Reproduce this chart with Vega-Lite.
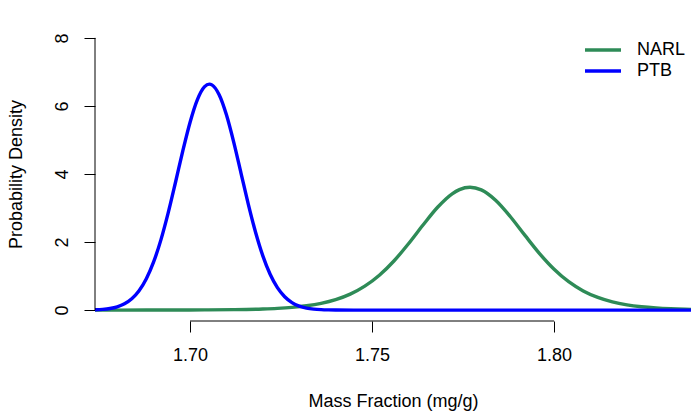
{
  "$schema": "https://vega.github.io/schema/vega-lite/v6.json",
  "autosize": "none",
  "width": 596,
  "height": 294,
  "padding": {"left": 95, "top": 27, "right": 2, "bottom": 90},
  "background": "white",
  "config": {
    "view": {"stroke": null},
    "font": "Liberation Sans"
  },
  "datasets": {
    "curves": [
      {"series": "NARL", "x": 1.672, "density": 0.0003},
      {"series": "NARL", "x": 1.680, "density": 0.0006},
      {"series": "NARL", "x": 1.688, "density": 0.0012},
      {"series": "NARL", "x": 1.696, "density": 0.0026},
      {"series": "NARL", "x": 1.704, "density": 0.0060},
      {"series": "NARL", "x": 1.712, "density": 0.0139},
      {"series": "NARL", "x": 1.720, "density": 0.0333},
      {"series": "NARL", "x": 1.724, "density": 0.0520},
      {"series": "NARL", "x": 1.728, "density": 0.0814},
      {"series": "NARL", "x": 1.732, "density": 0.1273},
      {"series": "NARL", "x": 1.736, "density": 0.1985},
      {"series": "NARL", "x": 1.740, "density": 0.307},
      {"series": "NARL", "x": 1.744, "density": 0.469},
      {"series": "NARL", "x": 1.748, "density": 0.703},
      {"series": "NARL", "x": 1.752, "density": 1.024},
      {"series": "NARL", "x": 1.756, "density": 1.444},
      {"series": "NARL", "x": 1.760, "density": 1.949},
      {"series": "NARL", "x": 1.764, "density": 2.500},
      {"series": "NARL", "x": 1.768, "density": 3.022},
      {"series": "NARL", "x": 1.772, "density": 3.418},
      {"series": "NARL", "x": 1.774, "density": 3.541},
      {"series": "NARL", "x": 1.7769, "density": 3.610},
      {"series": "NARL", "x": 1.780, "density": 3.532},
      {"series": "NARL", "x": 1.784, "density": 3.221},
      {"series": "NARL", "x": 1.788, "density": 2.744},
      {"series": "NARL", "x": 1.792, "density": 2.195},
      {"series": "NARL", "x": 1.796, "density": 1.662},
      {"series": "NARL", "x": 1.800, "density": 1.201},
      {"series": "NARL", "x": 1.804, "density": 0.835},
      {"series": "NARL", "x": 1.808, "density": 0.564},
      {"series": "NARL", "x": 1.812, "density": 0.372},
      {"series": "NARL", "x": 1.816, "density": 0.2418},
      {"series": "NARL", "x": 1.820, "density": 0.1556},
      {"series": "NARL", "x": 1.824, "density": 0.0996},
      {"series": "NARL", "x": 1.828, "density": 0.0636},
      {"series": "NARL", "x": 1.832, "density": 0.0407},
      {"series": "NARL", "x": 1.836, "density": 0.0261},
      {"series": "NARL", "x": 1.840, "density": 0.0169},
      {"series": "PTB", "x": 1.672, "density": 0.0044},
      {"series": "PTB", "x": 1.674, "density": 0.0103},
      {"series": "PTB", "x": 1.676, "density": 0.0229},
      {"series": "PTB", "x": 1.678, "density": 0.0483},
      {"series": "PTB", "x": 1.680, "density": 0.0968},
      {"series": "PTB", "x": 1.682, "density": 0.184},
      {"series": "PTB", "x": 1.684, "density": 0.331},
      {"series": "PTB", "x": 1.686, "density": 0.567},
      {"series": "PTB", "x": 1.688, "density": 0.920},
      {"series": "PTB", "x": 1.690, "density": 1.415},
      {"series": "PTB", "x": 1.692, "density": 2.064},
      {"series": "PTB", "x": 1.694, "density": 2.857},
      {"series": "PTB", "x": 1.696, "density": 3.750},
      {"series": "PTB", "x": 1.698, "density": 4.670},
      {"series": "PTB", "x": 1.700, "density": 5.515},
      {"series": "PTB", "x": 1.702, "density": 6.179},
      {"series": "PTB", "x": 1.704, "density": 6.566},
      {"series": "PTB", "x": 1.7053, "density": 6.640},
      {"series": "PTB", "x": 1.706, "density": 6.619},
      {"series": "PTB", "x": 1.708, "density": 6.328},
      {"series": "PTB", "x": 1.710, "density": 5.738},
      {"series": "PTB", "x": 1.712, "density": 4.936},
      {"series": "PTB", "x": 1.714, "density": 4.027},
      {"series": "PTB", "x": 1.716, "density": 3.117},
      {"series": "PTB", "x": 1.718, "density": 2.288},
      {"series": "PTB", "x": 1.720, "density": 1.593},
      {"series": "PTB", "x": 1.722, "density": 1.052},
      {"series": "PTB", "x": 1.724, "density": 0.659},
      {"series": "PTB", "x": 1.726, "density": 0.392},
      {"series": "PTB", "x": 1.728, "density": 0.221},
      {"series": "PTB", "x": 1.730, "density": 0.118},
      {"series": "PTB", "x": 1.732, "density": 0.0598},
      {"series": "PTB", "x": 1.734, "density": 0.0288},
      {"series": "PTB", "x": 1.736, "density": 0.0131},
      {"series": "PTB", "x": 1.738, "density": 0.0057},
      {"series": "PTB", "x": 1.740, "density": 0.0023},
      {"series": "PTB", "x": 1.745, "density": 0.0003},
      {"series": "PTB", "x": 1.750, "density": 0},
      {"series": "PTB", "x": 1.800, "density": 0},
      {"series": "PTB", "x": 1.840, "density": 0}
    ]
  },
  "layer": [
    {
      "data": {"name": "curves"},
      "transform": [{"filter": "datum.series === 'NARL'"}],
      "mark": {"type": "line", "interpolate": "monotone", "strokeWidth": 3.4, "clip": true},
      "encoding": {
        "x": {
          "field": "x",
          "type": "quantitative",
          "scale": {"domain": [1.6739, 1.8376], "nice": false, "zero": false},
          "axis": {
            "values": [1.70, 1.75, 1.80],
            "format": ".2f",
            "domain": false,
            "grid": false,
            "tickSize": 11,
            "tickColor": "black",
            "tickWidth": 1,
            "labelFontSize": 18,
            "labelColor": "black",
            "labelPadding": 28,
            "labelBaseline": "alphabetic",
            "labelFlush": false,
            "labelOverlap": false,
            "title": "Mass Fraction (mg/g)",
            "titleFontSize": 18,
            "titleFontWeight": "normal",
            "titleColor": "black",
            "titleX": 298,
            "titleY": 85,
            "titleBaseline": "alphabetic",
            "titleAlign": "center"
          }
        },
        "y": {
          "field": "density",
          "type": "quantitative",
          "scale": {"domain": [-0.32, 8.32], "nice": false, "zero": false},
          "axis": {
            "values": [0, 2, 4, 6, 8],
            "format": "d",
            "domain": false,
            "grid": false,
            "tickSize": 11,
            "tickColor": "black",
            "tickWidth": 1,
            "labelFontSize": 18,
            "labelColor": "black",
            "labelAngle": 270,
            "labelAlign": "center",
            "labelBaseline": "alphabetic",
            "labelPadding": 17,
            "labelFlush": false,
            "labelOverlap": false,
            "title": "Probability Density",
            "titleFontSize": 18,
            "titleFontWeight": "normal",
            "titleColor": "black",
            "titleAngle": 270,
            "titleX": -74,
            "titleY": 147,
            "titleBaseline": "alphabetic",
            "titleAlign": "center"
          }
        },
        "color": {
          "field": "series",
          "type": "nominal",
          "scale": {"domain": ["NARL", "PTB"], "range": ["#2E8B57", "#0000FF"]},
          "legend": {
            "title": null,
            "orient": "none",
            "legendX": 497,
            "legendY": 12,
            "symbolType": "M-2,0L2,0",
            "symbolSize": 324,
            "symbolStrokeWidth": 3.4,
            "labelFontSize": 18,
            "labelColor": "black",
            "labelOffset": 23,
            "padding": 0,
            "rowPadding": 1,
            "labelBaseline": "middle"
          }
        }
      }
    },
    {
      "data": {"name": "curves"},
      "transform": [{"filter": "datum.series === 'PTB'"}],
      "mark": {"type": "line", "interpolate": "monotone", "strokeWidth": 3.4, "clip": true},
      "encoding": {
        "x": {"field": "x", "type": "quantitative"},
        "y": {"field": "density", "type": "quantitative"},
        "color": {"field": "series", "type": "nominal"}
      }
    },
    {
      "data": {"values": [{"axis": "y"}]},
      "mark": {"type": "rule", "color": "black", "strokeWidth": 1},
      "encoding": {
        "x": {"datum": 1.6739, "type": "quantitative"},
        "y": {"datum": 0, "type": "quantitative"},
        "y2": {"datum": 8}
      }
    },
    {
      "data": {"values": [{"axis": "x"}]},
      "mark": {"type": "rule", "color": "black", "strokeWidth": 1},
      "encoding": {
        "x": {"datum": 1.70, "type": "quantitative"},
        "x2": {"datum": 1.80},
        "y": {"datum": -0.32, "type": "quantitative"}
      }
    }
  ]
}
